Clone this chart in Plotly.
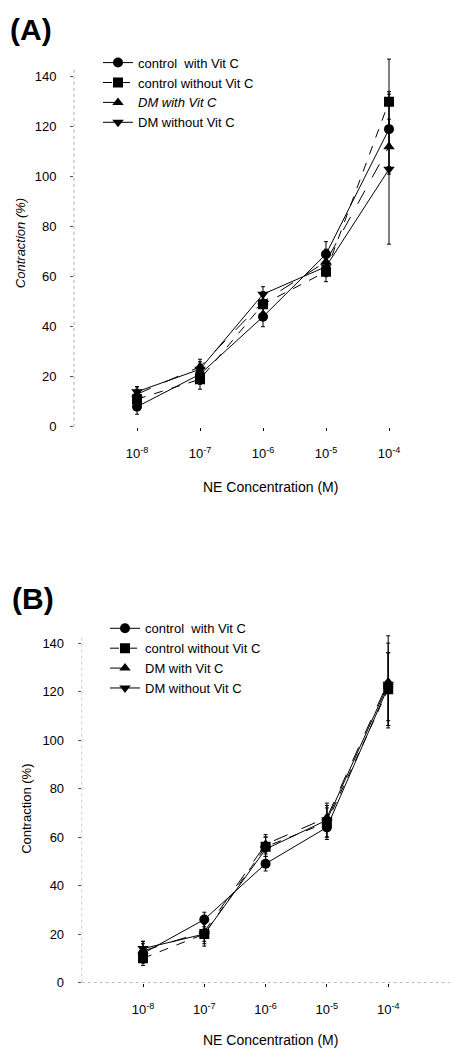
import plotly.graph_objects as go

# ---- data ----
conc_exp = [-8, -7, -6, -5, -4]
xtick_text = ["10<sup>-8</sup>", "10<sup>-7</sup>", "10<sup>-6</sup>", "10<sup>-5</sup>", "10<sup>-4</sup>"]
series_names = ["control  with Vit C", "control without Vit C", "DM with Vit C", "DM without Vit C"]

# Panel A
a_ctrl_vitc = [8, 21, 44, 69, 119]
a_ctrl_vitc_err = [3, 4, 4, 5, 15]
a_ctrl_novitc = [11, 19, 49, 62, 130]
a_ctrl_novitc_err = [4, 4, 4, 4, 17]
a_dm_vitc = [13, 24, 50, 66, 112]
a_dm_vitc_err = [3, 3, 4, 5, 11]
a_dm_novitc = [14, 23, 53, 64, 103]
a_dm_novitc_err = [2, 3, 3, 4, 30]

# Panel B
b_ctrl_vitc = [12, 26, 49, 64, 122]
b_ctrl_vitc_err = [4, 3, 3, 5, 14]
b_ctrl_novitc = [10, 20, 56, 66, 121]
b_ctrl_novitc_err = [3, 4, 4, 6, 15]
b_dm_vitc = [13, 21, 57, 68, 124]
b_dm_vitc_err = [4, 4, 4, 5, 19]
b_dm_novitc = [14, 20, 55, 67, 123]
b_dm_novitc_err = [3, 5, 5, 7, 17]

W, H = 451, 1059
FONT = "Liberation Sans, Arial, sans-serif"

symbols = ["circle", "square", "triangle-up", "triangle-down"]
dashes = ["solid", "dash", "longdash", "solid"]

fig = go.Figure()

def add_panel(vals, errs, xa, ya, legend, italic_idx=None):
    for i, (v, e) in enumerate(zip(vals, errs)):
        name = series_names[i]
        if italic_idx is not None and i == italic_idx:
            name = "<i>" + name + "</i>"
        fig.add_trace(go.Scatter(
            x=conc_exp, y=v, name=name, mode="lines+markers",
            xaxis=xa, yaxis=ya, legend=legend,
            line=dict(color="black", width=1, dash=dashes[i]),
            marker=dict(symbol=symbols[i], size=10, color="black"),
            error_y=dict(type="data", array=e, visible=True, color="black",
                         thickness=1, width=2),
        ))

add_panel([a_ctrl_vitc, a_ctrl_novitc, a_dm_vitc, a_dm_novitc],
          [a_ctrl_vitc_err, a_ctrl_novitc_err, a_dm_vitc_err, a_dm_novitc_err],
          "x", "y", "legend", italic_idx=2)
add_panel([b_ctrl_vitc, b_ctrl_novitc, b_dm_vitc, b_dm_novitc],
          [b_ctrl_vitc_err, b_ctrl_novitc_err, b_dm_vitc_err, b_dm_novitc_err],
          "x2", "y2", "legend2")

# Geometry (pixels)
a_y0, a_ppu = 430, 2.52
a_x8, a_ppd = 137, 63
a_xr = [-9, -3.4]
a_yr = [0, 150]
a_top = a_y0 - a_yr[1] * a_ppu
a_left = a_x8 + (a_xr[0] + 8) * a_ppd
a_right = a_x8 + (a_xr[1] + 8) * a_ppd

b_y0, b_ppu = 990, 2.443
b_x8, b_ppd = 143, 61.3
b_xr = [-9, -3.2]
b_yr = [0, 150]
b_top = b_y0 - b_yr[1] * b_ppu
b_left = b_x8 + (b_xr[0] + 8) * b_ppd
b_right = b_x8 + (b_xr[1] + 8) * b_ppd

def xaxis(left, right, anchor, rng):
    return dict(domain=[left / W, right / W], range=rng, anchor=anchor,
                tickvals=conc_exp, ticktext=xtick_text, ticks="outside",
                ticklen=3, tickcolor="black", showline=False, showgrid=False,
                zeroline=False, ticklabelstandoff=12,
                tickfont=dict(family=FONT, size=13, color="black"))

def yaxis(top, bottom, anchor, rng):
    return dict(domain=[1 - bottom / H, 1 - top / H], range=rng, anchor=anchor,
                tickvals=[0, 20, 40, 60, 80, 100, 120, 140], ticks="outside",
                ticklen=3, tickcolor="#555", showline=False, showgrid=False,
                zeroline=False, ticklabelstandoff=11,
                tickfont=dict(family=FONT, size=13, color="black"))

fig.update_layout(
    width=W, height=H, margin=dict(l=0, r=0, t=0, b=0),
    paper_bgcolor="white", plot_bgcolor="white",
    font=dict(family=FONT, size=13, color="black"),
    xaxis=xaxis(a_left, a_right, "y", a_xr),
    yaxis=yaxis(a_top, a_y0, "x", a_yr),
    xaxis2=xaxis(b_left, b_right, "y2", b_xr),
    yaxis2=yaxis(b_top, b_y0, "x2", b_yr),
    legend=dict(x=98 / W, y=1 - 48 / H, xanchor="left", yanchor="top",
                bgcolor="rgba(0,0,0,0)", font=dict(family=FONT, size=13),
                itemwidth=30, tracegroupgap=0),
    legend2=dict(x=105 / W, y=1 - 618 / H, xanchor="left", yanchor="top",
                 bgcolor="rgba(0,0,0,0)", font=dict(family=FONT, size=13),
                 itemwidth=30, tracegroupgap=0),
)

# faint dotted axis lines
fig.add_shape(type="line", xref="paper", yref="paper",
              x0=a_left / W, x1=a_left / W, y0=1 - a_y0 / H, y1=1 - 70 / H,
              line=dict(color="#aaa", width=1, dash="dot"))
fig.add_shape(type="line", xref="paper", yref="paper",
              x0=b_left / W, x1=b_left / W, y0=1 - b_y0 / H, y1=1 - 640 / H,
              line=dict(color="#ccc", width=1, dash="dot"))
fig.add_shape(type="line", xref="paper", yref="paper",
              x0=b_left / W, x1=450 / W, y0=1 - b_y0 / H, y1=1 - b_y0 / H,
              line=dict(color="#bbb", width=1, dash="dot"))

annotations = [
    dict(text="<b>(A)</b>", x=8 / W, y=1 - 30 / H, xanchor="left", yanchor="middle",
         font=dict(family=FONT, size=30)),
    dict(text="<b>(B)</b>", x=10 / W, y=1 - 603 / H, xanchor="left", yanchor="middle",
         font=dict(family=FONT, size=30)),
    dict(text="NE Concentration (M)", x=270 / W, y=1 - 491 / H, xanchor="center",
         yanchor="middle", font=dict(family=FONT, size=14)),
    dict(text="NE Concentration (M)", x=270 / W, y=1 - 1048 / H, xanchor="center",
         yanchor="middle", font=dict(family=FONT, size=14)),
    dict(text="<i>Contraction (%)</i>", x=20 / W, y=1 - 245 / H, xanchor="center",
         yanchor="middle", textangle=-90, font=dict(family=FONT, size=13)),
    dict(text="Contraction (%)", x=27 / W, y=1 - 815 / H, xanchor="center",
         yanchor="middle", textangle=-90, font=dict(family=FONT, size=13)),
]
for a in annotations:
    a.update(xref="paper", yref="paper", showarrow=False)
fig.update_layout(annotations=annotations)

fig.write_html("out.html")
